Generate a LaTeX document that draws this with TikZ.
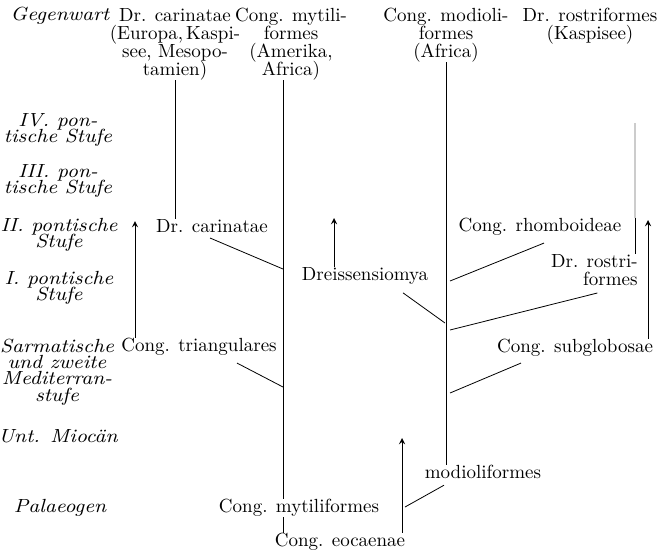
\documentclass[tikz,border=0pt]{standalone}
\usepackage{fontspec}
\newfontfamily\stagefont{Latin Modern Roman}[FakeStretch=1.1]
\usetikzlibrary{arrows}
\lineskiplimit=-\maxdimen
\tikzset{every node/.style={align=center, % all texts centred
           inner sep=0pt,
           font=\fontsize{9.5}{9}\selectfont},
         stage/.style={ % time scale on the left
           font=\stagefont\fontsize{9.5}{8.2}\selectfont\itshape},
         faint/.style={gray!40, line width=0.8pt},
         >=stealth}
\begin{document}
\begin{tikzpicture}[x=0.5pt, y=-0.5pt]
  \useasboundingbox (0,0) rectangle (662,553);

  % time scale
  \node [stage] (sgeg) at (60,16) {Gegenwart};
  \node [stage] (siv) at (58,130) {IV. pon-\\tische Stufe};
  \node [stage] (siii) at (58,181) {III. pon-\\tische Stufe};
  \node [stage] (sii) at (59,235) {II. pontische\\Stufe};
  \node [stage] (si) at (59,288) {I. pontische\\Stufe};
  \node [stage] (ssarm) at (57,372) {Sarmatische\\und zweite\\Mediterran-\\stufe};
  \node [stage] (smioc) at (58,436) {Unt. Miocän};
  \node [stage] (spal) at (60,508) {Palaeogen};

  % living groups
  \node (hcar) at (175,44) {Dr. carinatae\\(Europa,\,Kaspi-\\see, Mesopo-\\tamien)};
  \node (hmyt) at (291,44) {Cong. mytili-\\formes\\(Amerika,\\Africa)};
  \node (hmod) at (446,35) {Cong. modioli-\\formes\\(Africa)};
  \node (hros) at (590,26) {Dr. rostriformes\\(Kaspisee)};

  % fossil groups
  \node (car) at (212,226) {Dr. carinatae};
  \node (dre) at (365,276) {Dreissensiomya};
  \node (rho) at (540,227) {Cong. rhomboideae};
  \node [anchor=east, align=right] (ros) at (638,270) {Dr. rostri-\\formes};
  \node (tri) at (199,347) {Cong. triangulares};
  \node (sub) at (575,348) {Cong. subglobosae};
  \node (mod) at (483,472) {modioliformes};
  \node (myt) at (299,508) {Cong. mytiliformes};
  \node (eoc) at (340,542) {Cong. eocaenae};

  % joints on the stems
  \coordinate (jcar) at (283,269);
  \coordinate (jtri) at (283,387);
  \coordinate (jdre) at (445,323);
  \coordinate (jrho) at (450,281);
  \coordinate (jros) at (450,330);
  \coordinate (jsub) at (450,393);
  \coordinate (jmod) at (405,507);
  \coordinate (rtop) at (635,123);

  % arrow tips
  \coordinate (atri) at (135,221);
  \coordinate (adre) at (334,218);
  \coordinate (asub) at (648,220);
  \coordinate (aeoc) at (402,438);

  % stems
  \draw (hcar.south) -- (hcar.south |- car.north);
  \draw (jcar |- hmyt.south) -- (jcar |- myt.north);
  \draw (jcar |- myt.south) -- (jcar |- eoc.north);
  \draw (hmod.south) -- (hmod.south |- mod.north);
  \draw [faint] (rtop) -- (rtop |- rho.north);
  \draw (rtop |- rho.north) -- (rtop |- ros.north);

  % branches
  \draw (car.south) ++(-2,5) -- (jcar);
  \draw (tri.south) ++(38,7) -- (jtri);
  \draw (dre.south) ++(38,8) -- (jdre);
  \draw (rho.south) ++(4,7) -- (jrho);
  \draw (ros.south) ++(3,7) -- (jros);
  \draw (sub.south) ++(-54,6) -- (jsub);
  \draw (mod.south) ++(-39,6) -- (jmod);

  % arrows
  \draw [->] (atri |- tri.north) -- (atri);
  \draw [->] (adre |- dre.north) -- (adre);
  \draw [->] (asub |- sub.north) -- (asub);
  \draw [->] (aeoc |- eoc.north) -- (aeoc);

\end{tikzpicture}
\end{document}
